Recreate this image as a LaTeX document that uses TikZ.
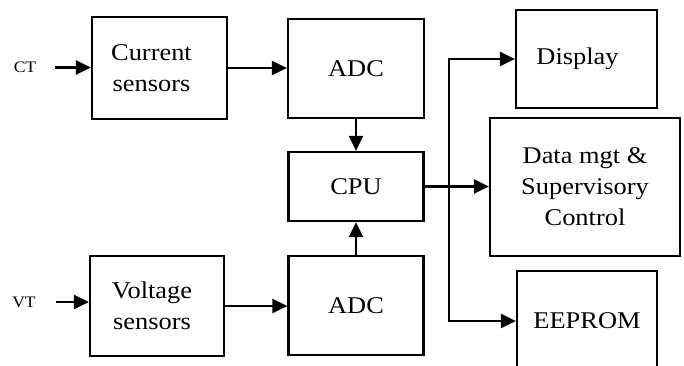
\documentclass[tikz,border=0pt]{standalone}
\usepackage{fontspec}
\setmainfont{Liberation Serif}[FakeStretch=1.1]
\usetikzlibrary{arrows.meta}

\tikzset{
  block/.style={draw, line width=2.2pt, inner sep=0pt, align=center,
    font=\fontsize{24}{31}\selectfont},
  sig/.style={font=\fontsize{16}{18}\selectfont, inner sep=0pt},
  arr/.style={line width=2.5pt, -{Triangle[length=15pt,width=14pt]}}
}

\begin{document}
\begin{tikzpicture}[x=1pt,y=-1pt]
  \clip (0,0) rectangle (684,365);
  \fill[white] (0,0) rectangle (684,365);

  % input signal labels
  \node[sig] (ct) at (25,67.5) {CT};
  \node[sig] (vt) at (24,302) {VT};

  % sensor stage
  \node[block, minimum width=135pt, minimum height=102pt] (cur) at (159.5,68)
    {\hspace*{-16pt}Current\\\hspace*{-16pt}sensors};
  \node[block, minimum width=134pt, minimum height=100pt] (volt) at (157,306)
    {\hspace*{-10pt}Voltage\\\hspace*{-10pt}sensors};

  % converters and processor
  \node[block, minimum width=136pt, minimum height=99pt] (adc1) at (356,68.5) {ADC};
  \node[block, minimum width=135pt, minimum height=99pt] (adc2) at (356,305.5) {ADC};
  \node[block, minimum width=135pt, minimum height=69pt] (cpu) at (356,186.5) {CPU};

  % outputs
  \node[block, minimum width=141pt, minimum height=98pt] (disp) at (586.5,59)
    {\hspace*{-18pt}Display};
  \node[block, minimum width=190pt, minimum height=138pt] (data) at (585,187)
    {Data mgt \&\\Supervisory\\Control};
  \node[block, minimum width=140pt, minimum height=100pt] (eep) at (587,321) {EEPROM};

  % signal path
  \draw[arr, shorten <=19pt] (ct.east) -- (ct.east -| cur.west);
  \draw[arr, shorten <=20pt] (vt.east) -- (vt.east -| volt.west);
  \draw[arr] (cur.east) -- (adc1.west |- cur.east);
  \draw[arr] (volt.east) -- (adc2.west |- volt.east);
  \draw[arr] (adc1.south) -- (cpu.north);
  \draw[arr] (adc2.north) -- (cpu.south);
  \draw[arr] (cpu.east) -- (data.west |- cpu.east);

  % output bus
  \coordinate (bus) at (449,189);
  \draw[arr] (bus) |- (disp.west);
  \draw[arr] (bus) |- (eep.west);
\end{tikzpicture}
\end{document}
